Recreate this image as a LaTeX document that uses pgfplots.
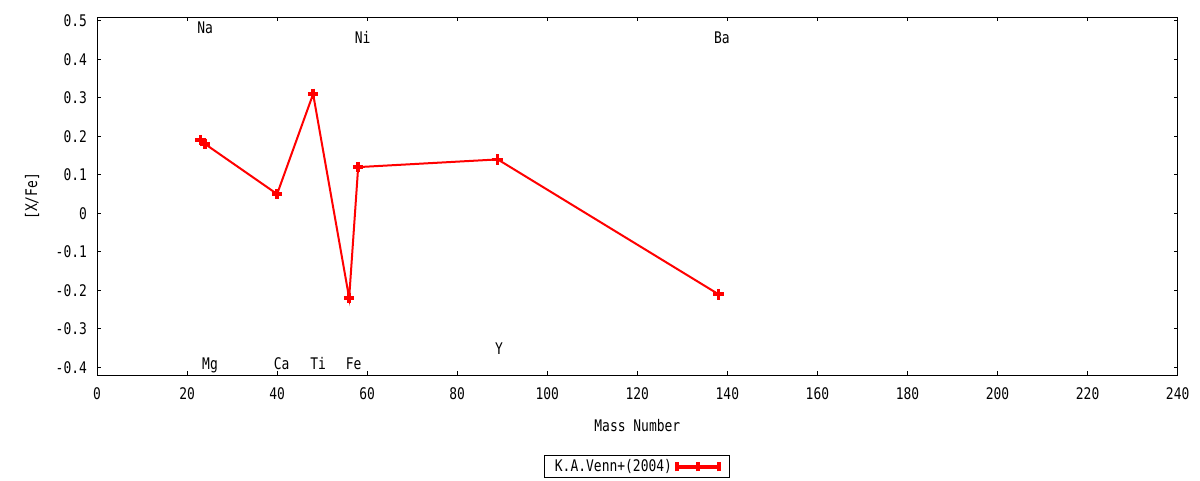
\documentclass[border=0pt]{standalone}
\usepackage{pgfplots}
\pgfplotsset{compat=1.18}
\usepackage{fontspec}
\newfontfamily\gpfont[FakeStretch=0.81]{DejaVu Sans Mono}
\definecolor{gpred}{RGB}{255,0,0}
\begin{document}
\begin{tikzpicture}
\path[use as bounding box] (0,0) rectangle (900pt,360pt);
\begin{axis}[
  at={(72.75pt,78.5pt)}, anchor=south west,
  scale only axis, width=810.5pt, height=268.5pt,
  xmin=0, xmax=240, ymin=-0.4208, ymax=0.509,
  xtick={0,20,...,240},
  ytick={-0.4,-0.3,-0.2,-0.1,0,0.1,0.2,0.3,0.4,0.5},
  yticklabels={-0.4,-0.3,-0.2,-0.1,0,0.1,0.2,0.3,0.4,0.5},
  xticklabels={0,20,40,60,80,100,120,140,160,180,200,220,240},
  tick align=inside, major tick length=3pt,
  axis line style={line width=0.75pt}, every tick/.style={black, line width=0.75pt},
  ticklabel style={font=\gpfont\fontsize{12pt}{14pt}\selectfont},
  yticklabel style={xshift=-4pt},
  xticklabel style={yshift=-5.5pt},
  /pgf/number format/assume math mode=true,
  xlabel={Mass Number}, ylabel={[X/Fe]},
  label style={font=\gpfont\fontsize{12pt}{14pt}\selectfont},
  xlabel style={at={(axis description cs:0.5,-0.1397)}, anchor=center},
  ylabel style={at={(axis description cs:-0.0601,0.5)}, anchor=center},
  legend style={at={(0.4995,-0.2226)}, anchor=north, draw=black, line width=0.75pt,
    font=\gpfont\fontsize{12pt}{14pt}\selectfont, inner xsep=6pt, inner ysep=1pt,
    legend cell align=left, /tikz/every even column/.append style={column sep=7pt}},
  legend plot pos=right,
  legend image code/.code={
    \draw[gpred, line width=3pt] (0pt,0pt) -- (32pt,0pt);
    \draw[gpred, line width=3pt] (0pt,-3.5pt) -- (0pt,3.5pt);
    \draw[gpred, line width=3pt] (32pt,-3.5pt) -- (32pt,3.5pt);
    \draw[gpred, line width=3pt] (16pt,-3.5pt) -- (16pt,3.5pt);
  },
]
\addplot[gpred, line width=1.5pt, mark=+, mark size=4pt, mark options={line width=2.6pt}]
  coordinates {(23,0.19) (24,0.18) (40,0.05) (48,0.31) (56,-0.22) (58,0.12) (89,0.14) (138,-0.21)};
\addlegendentry{K.A.Venn+(2004)}
\begin{scope}[font=\gpfont\fontsize{12pt}{14pt}\selectfont]
\node at (axis cs:24.0,0.482) {Na};
\node at (axis cs:59.0,0.456) {Ni};
\node at (axis cs:138.8,0.455) {Ba};
\node[yshift=-1.5pt] at (axis cs:25.1,-0.39) {Mg};
\node at (axis cs:41.0,-0.39) {Ca};
\node at (axis cs:49.1,-0.39) {Ti};
\node at (axis cs:57.0,-0.39) {Fe};
\node at (axis cs:89.3,-0.352) {Y};
\end{scope}
\end{axis}
\end{tikzpicture}
\end{document}
